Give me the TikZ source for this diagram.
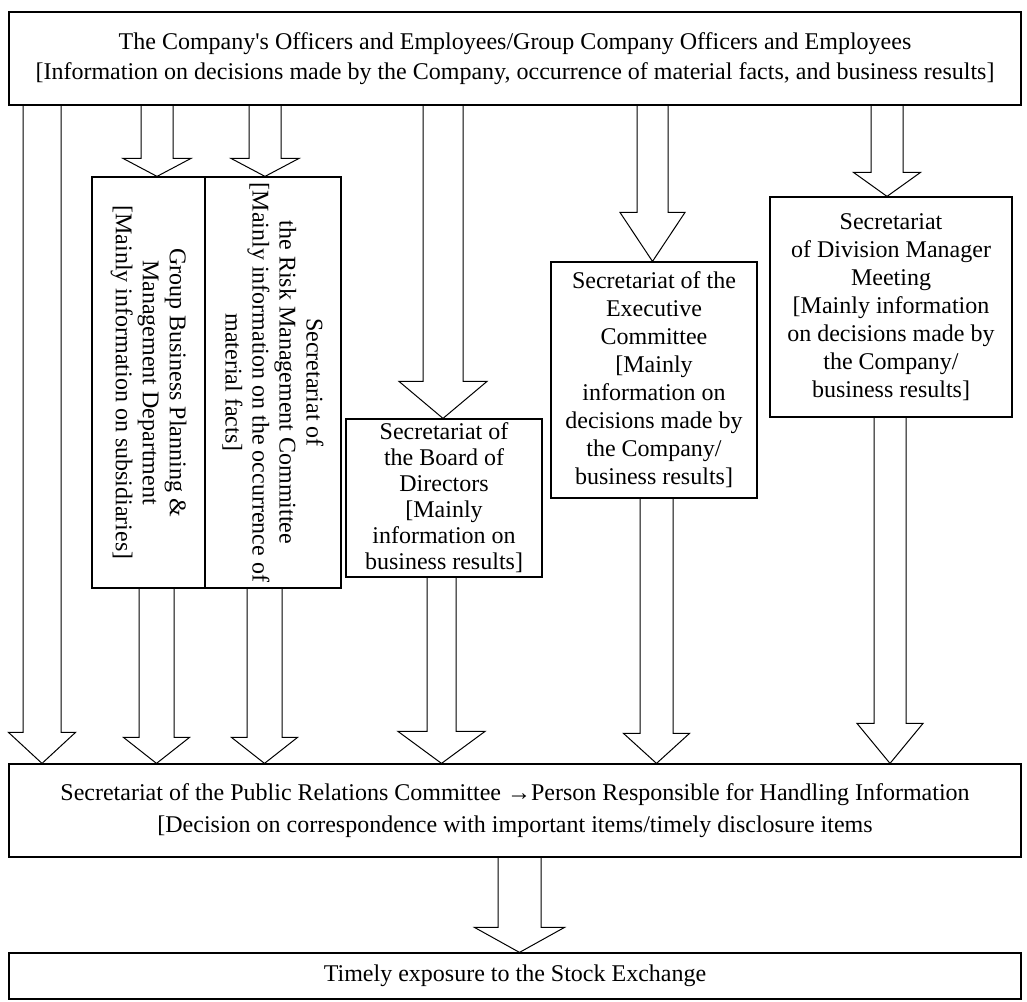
\documentclass[tikz,border=0pt]{standalone}
\usepackage{fontspec}
\setmainfont{Liberation Serif}
\usepackage{tikz}
\usetikzlibrary{calc}

\tikzset{
  box/.style={draw, line width=0.6pt, inner sep=0pt, align=center, font=\fontsize{12}{14}\selectfont},
  fatarr/.style={draw, line width=0.5pt, line join=miter},
}
% hollow block arrow: from anchor, to anchor, x, shaft half width, head half width, head length (px)
\newcommand{\fatarrow}[6]{%
  \draw[fatarr] let \p1=(#1), \p2=(#2), \p3=(#3,0) in
    ({\x3-#4*0.5pt},\y1) -- ({\x3-#4*0.5pt},{\y2+#6*0.5pt}) -- ({\x3-#5*0.5pt},{\y2+#6*0.5pt})
    -- (\x3,\y2) -- ({\x3+#5*0.5pt},{\y2+#6*0.5pt}) -- ({\x3+#4*0.5pt},{\y2+#6*0.5pt})
    -- ({\x3+#4*0.5pt},\y1);}

\begin{document}
\begin{tikzpicture}[x=0.5pt,y=-0.5pt]
  \useasboundingbox (0,0) rectangle (1027,1001);

  \node[box, minimum width=506pt, minimum height=46.5pt, font=\fontsize{12}{15}\selectfont] (T) at (515,58.5)
    {The Company\textquotesingle s Officers and Employees/Group Company Officers and Employees\\
     {[}Information on decisions made by the Company, occurrence of material facts, and business results]};

  \node[box, rotate=-90, minimum width=205.5pt, minimum height=56.5pt, font=\fontsize{12}{13.5}\selectfont] (G) at (148.5,382.5)
    {Group Business Planning \&\\Management Department\\{[}Mainly information on subsidiaries]};
  \node[box, rotate=-90, minimum width=205.5pt, minimum height=68pt, font=\fontsize{12}{13.5}\selectfont] (R) at (273,382.5)
    {Secretariat of\\the Risk Management Committee\\{[}Mainly information on the occurrence of\\material facts]};

  \node[box, minimum width=98pt, minimum height=79pt, font=\fontsize{12}{13}\selectfont] (D) at (444,498)
    {Secretariat of\\the Board of\\Directors\\{[}Mainly\\information on\\business results]};
  \node[box, minimum width=103pt, minimum height=118pt] (E) at (654,380)
    {Secretariat of the\\Executive\\Committee\\{[}Mainly\\information on\\decisions made by\\the Company/\\business results]};
  \node[box, minimum width=121pt, minimum height=110pt] (M) at (891,307)
    {Secretariat\\of Division Manager\\Meeting\\{[}Mainly information\\on decisions made by\\the Company/\\business results]};

  \node[box, minimum width=506pt, minimum height=46.5pt, font=\fontsize{12}{16}\selectfont] (P) at (515,810.5)
    {Secretariat of the Public Relations Committee →Person Responsible for Handling Information\\
     {[}Decision on correspondence with important items/timely disclosure items};
  \node[box, minimum width=506pt, minimum height=23pt] (B) at (515,976)
    {Timely exposure to the Stock Exchange};

  \fatarrow{T.south}{P.north}{42}{19}{33.5}{31}
  \fatarrow{T.south}{G.west}{157}{16}{34}{18}
  \fatarrow{T.south}{R.west}{265}{16}{34}{18}
  \fatarrow{G.east}{P.north}{156.5}{17.5}{33}{26}
  \fatarrow{R.east}{P.north}{264.5}{17.5}{33}{26}
  \fatarrow{T.south}{D.north}{443}{20}{44}{37}
  \fatarrow{D.south}{P.north}{441.5}{14.5}{43.5}{32}
  \fatarrow{T.south}{E.north}{652.5}{15.5}{32.5}{49}
  \fatarrow{E.south}{P.north}{656.5}{16.5}{33}{30}
  \fatarrow{T.south}{M.north}{887}{16}{33.5}{24}
  \fatarrow{M.south}{P.north}{890}{16}{33}{40}
  \fatarrow{P.south}{B.north}{519.5}{21.5}{45}{25}
\end{tikzpicture}
\end{document}
